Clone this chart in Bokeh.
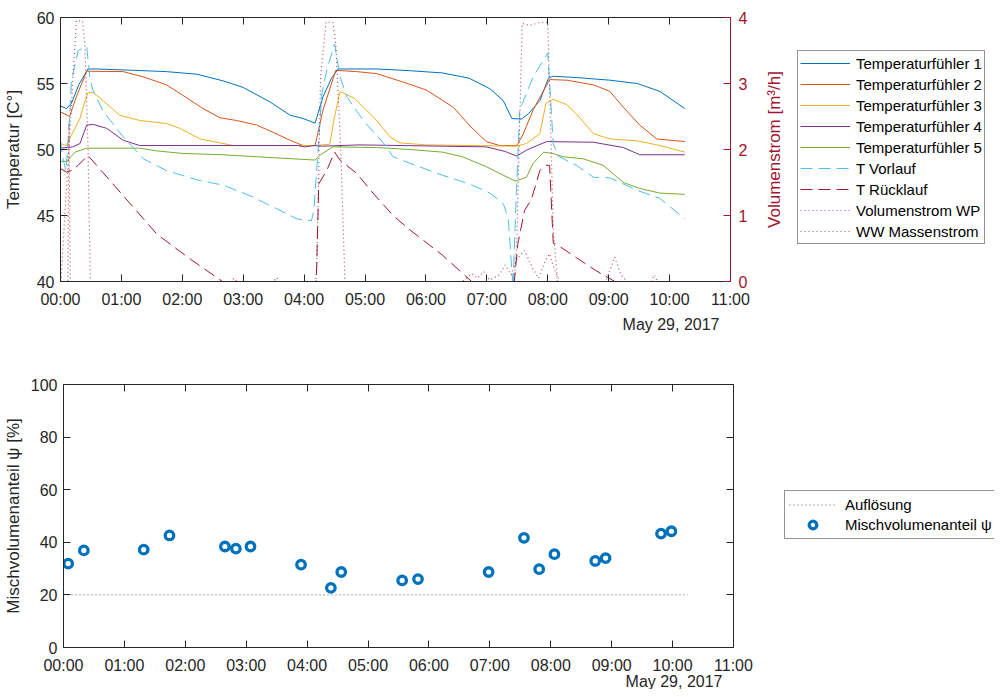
import pandas as pd
from bokeh.plotting import figure
from bokeh.models import (Range1d, LinearAxis, DatetimeAxis, FixedTicker, CustomJSTickFormatter,
                          DatetimeTickFormatter, Legend, LegendItem, Title)
from bokeh.layouts import column, row
from bokeh.embed import file_html
from bokeh.resources import INLINE

# ---------------- data (hours after midnight, 29 May 2017) ----------------
t1_h = [0, 0.1, 0.18, 0.3, 0.45, 0.6, 1.2, 1.74, 2.24, 2.67, 3.0, 3.44, 3.77, 3.98, 4.18, 4.31, 4.45, 4.56,
        5.2, 5.74, 6.27, 6.71, 7.05, 7.27, 7.41, 7.57, 7.68, 7.87, 8.01, 8.09, 8.47, 9.02, 9.47, 9.84, 10.25]
t1_v = [53.3, 53.1, 53.5, 54.9, 56.1, 56.1, 56.0, 55.9, 55.7, 55.2, 54.7, 53.6, 52.6, 52.35, 52.0, 54.0, 55.4, 56.1,
        56.1, 55.97, 55.8, 55.4, 54.6, 53.7, 52.35, 52.3, 52.7, 53.7, 55.4, 55.55, 55.45, 55.25, 55.0, 54.4, 53.1]

t2_h = [0, 0.15, 0.26, 0.43, 1.03, 1.36, 1.74, 2.01, 2.34, 2.62, 2.89, 3.22, 3.49, 3.77, 3.98, 4.18, 4.31, 4.52,
        4.86, 5.19, 5.63, 6.01, 6.45, 6.72, 6.99, 7.21, 7.49, 7.59, 7.76, 8.03, 8.31, 8.75, 9.02, 9.24, 9.51, 9.79, 10.25]
t2_v = [52.85, 52.5, 54.0, 55.93, 55.9, 55.5, 54.9, 54.1, 53.1, 52.4, 52.2, 51.85, 51.3, 50.7, 50.3, 50.3, 53.0, 56.0,
        55.9, 55.75, 55.1, 54.5, 53.2, 51.8, 50.6, 50.3, 50.3, 51.1, 53.0, 55.3, 55.25, 54.9, 54.4, 53.2, 51.85, 50.8, 50.6]

t3_h = [0, 0.1, 0.18, 0.32, 0.37, 0.45, 0.54, 0.7, 0.97, 1.3, 1.74, 1.96, 2.29, 2.84, 4.18, 4.42, 4.5, 4.59, 4.83,
        5.13, 5.19, 5.41, 5.57, 6.01, 7.49, 7.65, 7.87, 7.97, 8.09, 8.31, 8.47, 8.75, 9.02, 9.47, 9.84, 10.25]
t3_v = [50.45, 50.3, 51.1, 52.35, 53.2, 54.3, 54.3, 53.7, 52.6, 52.2, 51.97, 51.6, 50.8, 50.3, 50.3, 50.4, 52.5, 54.4, 53.86,
        52.5, 52.2, 50.95, 50.5, 50.35, 50.25, 50.45, 51.2, 53.5, 53.8, 53.4, 52.7, 51.2, 50.8, 50.65, 50.3, 49.8]

t4_h = [0, 0.2, 0.32, 0.43, 0.54, 0.76, 1.03, 1.3, 3.9, 4.0, 4.18, 4.3, 4.9, 6.99, 7.3, 7.49, 7.65, 7.98,
        8.75, 9.24, 9.51, 10.25]
t4_v = [50.1, 50.2, 50.45, 51.85, 51.9, 51.6, 50.7, 50.3, 50.3, 50.2, 50.3, 50.25, 50.35, 50.2, 49.85, 49.5, 49.95, 50.6,
        50.55, 50.15, 49.6, 49.6]

t5_h = [0, 0.1, 0.24, 0.43, 1.3, 1.57, 2.01, 2.67, 3.22, 4.18, 4.27, 4.47, 5.19, 5.74, 6.27, 6.6, 6.99, 7.27, 7.47,
        7.65, 7.76, 7.93, 8.09, 8.25, 8.58, 8.91, 9.24, 9.51, 9.84, 10.25]
t5_v = [49.1, 49.1, 49.8, 50.1, 50.1, 49.9, 49.7, 49.6, 49.45, 49.2, 49.6, 50.2, 50.15, 50.0, 49.8, 49.45, 48.7, 48.05, 47.6,
        47.9, 48.95, 49.8, 49.7, 49.45, 49.3, 48.8, 47.5, 47.05, 46.7, 46.6]

vl_h = [0, 0.04, 0.09, 0.15, 0.18, 0.29, 0.43, 0.48, 0.53, 0.7, 1.03, 1.36, 1.74, 2.24, 2.67, 3.11, 3.49, 3.88, 4.12,
        4.16, 4.21, 4.29, 4.37, 4.5, 4.59, 4.7, 4.97, 5.3, 5.46, 5.74, 6.27, 6.71, 7.05, 7.27, 7.35, 7.38, 7.43,
        7.47, 7.54, 7.76, 8.0, 8.09, 8.17, 8.47, 8.75, 9.02, 9.47, 9.84, 10.25]
vl_v = [50.7, 49.3, 48.4, 52.5, 55.2, 57.5, 57.8, 55.5, 54.5, 52.9, 50.95, 49.3, 48.4, 47.7, 47.3, 46.5, 45.65, 44.75, 44.6,
        45.4, 48.7, 54.2, 56.0, 58.0, 55.5, 54.0, 52.2, 50.5, 49.45, 48.95, 48.05, 47.4, 46.7, 45.9, 44.8, 42.9, 39.5,
        45.0, 53.0, 55.5, 57.3, 50.45, 49.5, 48.8, 47.9, 47.85, 46.9, 46.3, 44.75]

rl_h = [0, 0.1, 0.18, 0.29, 0.45, 1.03, 1.58, 2.13, 2.66, 3.0, 4.15, 4.2, 4.24, 4.37, 4.5, 4.59, 4.86, 5.13, 5.46,
        5.74, 6.27, 6.75, 7.0, 7.4, 7.45, 7.51, 7.62, 7.73, 7.87, 7.95, 8.03, 8.09, 8.15, 8.47, 8.8, 9.1, 9.4, 10.25]
rl_v = [48.55, 48.3, 48.4, 48.8, 49.55, 46.5, 43.6, 41.7, 40.0, 39.0, 38.5, 40.1, 47.4, 48.4, 49.8, 49.2, 48.2, 46.7, 45.0,
        43.9, 42.0, 40.0, 39.0, 38.5, 40.0, 42.9, 45.4, 46.2, 48.4, 48.8, 48.8, 42.9, 42.8, 41.8, 40.8, 40.0, 39.0, 38.5]

wp_h = [0, 0.01, 0.26, 0.36, 0.4, 0.45, 0.49, 4.19, 4.21, 4.27, 4.36, 4.47, 4.52, 4.6, 4.67,
        7.45, 7.49, 7.58, 7.7, 7.85, 8.0, 8.04, 8.09, 8.16, 10.25]
wp_v = [0, 0.05, 3.95, 3.95, 3.6, 2.1, 0, 0, 0.3, 3.1, 3.93, 3.93, 3.6, 2.0, 0,
        0, 0.58, 3.91, 3.88, 3.92, 3.93, 2.6, 0.8, 0, 0]

ww_h = [0, 0.12, 0.14, 0.16, 2.8, 2.85, 2.9, 3.5, 3.55, 3.6, 6.6, 6.75, 6.85, 6.95, 7.05, 7.2, 7.3, 7.4, 7.5,
        7.62, 7.75, 7.85, 7.95, 8.03, 8.1, 8.2, 8.95, 9.1, 9.2, 9.3, 9.7, 9.75, 9.8, 10.25]
ww_v = [0, 0, 2.4, 0, 0, 0.05, 0, 0, 0.06, 0, 0, 0.12, 0.05, 0.15, 0.02, 0.1, 0.25, 0.1, 0.35,
        0.47, 0.2, 0.05, 0.3, 0.42, 0.2, 0, 0, 0.37, 0.1, 0, 0, 0.1, 0, 0]

psi_h = [0.077, 0.334, 1.317, 1.74, 2.65, 2.83, 3.07, 3.90, 4.39, 4.56, 5.56, 5.82, 6.98, 7.56, 7.81, 8.06,
         8.73, 8.90, 9.81, 9.98]
psi_v = [31.9, 36.9, 37.2, 42.6, 38.4, 37.6, 38.4, 31.5, 22.7, 28.7, 25.5, 26.0, 28.7, 41.7, 29.8, 35.5,
         32.9, 34.0, 43.3, 44.2]

aufl_h = [0, 10.25]
aufl_v = [20, 20]

hour_ticks = list(range(0, 12))
temp_ticks = [40, 45, 50, 55, 60]
flow_ticks = [0, 1, 2, 3, 4]
psi_ticks = [0, 20, 40, 60, 80, 100]
date_label = "May 29, 2017"
names1 = ["Temperaturfühler 1", "Temperaturfühler 2", "Temperaturfühler 3", "Temperaturfühler 4",
          "Temperaturfühler 5", "T Vorlauf", "T Rücklauf", "Volumenstrom WP", "WW Massenstrom"]
names2 = ["Auflösung", "Mischvolumenanteil ψ"]

# ---------------- helpers ----------------
BASE = pd.Timestamp("2017-05-29 00:00")
def T(hours):
    return [BASE + pd.Timedelta(hours=h) for h in hours]
def ms(h):
    return (BASE + pd.Timedelta(hours=h)).value / 1e6

FONT = "Liberation Sans"
DARK = "#262626"
RED = "#A2142F"
C = ["#0072BD", "#D95319", "#EDB120", "#7E2F8E", "#77AC30", "#4DBEEE", "#A2142F"]

STYLES = [dict(line_color=C[0], line_width=1), dict(line_color=C[1], line_width=1),
          dict(line_color=C[2], line_width=1), dict(line_color=C[3], line_width=1),
          dict(line_color=C[4], line_width=1),
          dict(line_color=C[5], line_width=1, line_dash="12 6"),
          dict(line_color=C[6], line_width=1, line_dash="12 6"),
          dict(line_color=RED, line_alpha=0.75, line_width=1.2, line_dash="1 3"),
          dict(line_color=RED, line_alpha=0.75, line_width=1.2, line_dash="1 3")]
AUFL_STYLE = dict(line_color="#555555", line_width=1, line_dash="1 3")
PSI_STYLE = dict(marker="circle", size=8.5, line_width=3.3, line_color="#0072BD", fill_color="white")

fmt = DatetimeTickFormatter(microseconds="%H:%M", milliseconds="%H:%M", seconds="%H:%M", minsec="%H:%M",
                            minutes="%H:%M", hourmin="%H:%M", hours="%H:%M", days="%H:%M",
                            months="%H:%M", years="%H:%M")
blank = CustomJSTickFormatter(code="return ''")
xticker = FixedTicker(ticks=[ms(h) for h in hour_ticks])

FW = 670          # plot frame width
LEFT = 56
RIGHT = 26
SIDE_W = 987 - (LEFT + FW + RIGHT)

def style_axis(ax, color=DARK, labels=True):
    ax.axis_line_color = color
    ax.axis_line_width = 1
    ax.major_tick_line_color = color
    ax.major_tick_in = 7
    ax.major_tick_out = 0
    ax.minor_tick_line_color = None
    ax.major_label_text_color = color
    ax.major_label_text_font = FONT
    ax.major_label_text_font_size = "16px"
    ax.major_label_standoff = 6 if labels else 0
    if not labels:
        ax.formatter = blank
    ax.axis_label_text_font = FONT
    ax.axis_label_text_font_size = "17px"
    ax.axis_label_text_font_style = "normal"
    ax.axis_label_text_color = color

def make_fig(fh, top, bottom, yr, title_standoff):
    p = figure(frame_width=FW, frame_height=fh, x_axis_type="datetime",
               x_range=Range1d(BASE, BASE + pd.Timedelta(hours=11)), y_range=yr,
               output_backend="svg", toolbar_location=None,
               min_border_left=LEFT, min_border_right=RIGHT, min_border_top=top, min_border_bottom=bottom)
    p.grid.visible = False
    p.outline_line_color = None
    p.background_fill_color = "white"
    p.border_fill_color = "white"
    p.xaxis.ticker = xticker
    p.xaxis.formatter = fmt
    for ax in p.xaxis:
        style_axis(ax)
        ax.major_label_standoff = 9
    for ax in p.yaxis:
        style_axis(ax)
    top_ax = DatetimeAxis(ticker=xticker)
    style_axis(top_ax, labels=False)
    p.add_layout(top_ax, "above")
    p.add_layout(Title(text=date_label, align="right", offset=11, standoff=title_standoff, text_font=FONT,
                       text_font_size="16px", text_font_style="normal", text_color=DARK), "below")
    return p

def make_side(fh, top, bottom, left):
    # side area holding the legend; its ranges keep the legend key renderers out of view
    s = figure(width=SIDE_W, frame_height=fh, x_range=Range1d(0, 1), y_range=Range1d(0, 1),
               output_backend="svg", toolbar_location=None, x_axis_location=None, y_axis_location=None,
               min_border_left=left, min_border_right=0, min_border_top=top, min_border_bottom=bottom)
    s.grid.visible = False
    s.outline_line_color = None
    s.border_fill_color = "white"
    s.background_fill_color = "white"
    return s

def make_legend(items, loc, gw, gh, standoff, pad):
    return Legend(items=items, location=loc, margin=0, padding=pad, spacing=1,
                  glyph_width=gw, glyph_height=gh, label_height=gh, label_standoff=standoff,
                  label_text_font=FONT, label_text_font_size="15px", label_text_color="black",
                  border_line_color=DARK, border_line_width=1,
                  background_fill_color="white", background_fill_alpha=1)

# ---------------- top figure ----------------
p1 = make_fig(264, 17, 59, Range1d(40, 60), 7)
p1.yaxis.ticker = FixedTicker(ticks=temp_ticks)
p1.yaxis.axis_label = "Temperatur [C°]"
p1.yaxis.axis_label_standoff = 11
p1.extra_y_ranges = {"flow": Range1d(0, 4)}
rax = LinearAxis(y_range_name="flow", ticker=FixedTicker(ticks=flow_ticks))
style_axis(rax, color=RED)
rax.major_label_standoff = 8
p1.add_layout(rax, "right")

series = [(t1_h, t1_v), (t2_h, t2_v), (t3_h, t3_v), (t4_h, t4_v), (t5_h, t5_v),
          (vl_h, vl_v), (rl_h, rl_v), (wp_h, wp_v), (ww_h, ww_v)]
for i, (hh, vv) in enumerate(series):
    extra = {"y_range_name": "flow"} if i >= 7 else {}
    p1.line(T(hh), vv, **STYLES[i], **extra)

# side area: right-axis title and legend
s1 = make_side(264, 17, 59, 36)
lab_ax = LinearAxis(ticker=FixedTicker(ticks=[]), axis_label="Volumenstrom [m³/h]")
style_axis(lab_ax, color=RED)
lab_ax.axis_line_color = None
lab_ax.axis_label_standoff = 9
s1.add_layout(lab_ax, "left")
keys1 = [s1.line(T(hh), vv, **STYLES[i]) for i, (hh, vv) in enumerate(series)]
s1.add_layout(make_legend([LegendItem(label=n, renderers=[g]) for n, g in zip(names1, keys1)],
                          (5, 37), 50, 20, 6, 2))

# ---------------- bottom figure ----------------
p2 = make_fig(263, 44, 42, Range1d(0, 100), -11)
p2.yaxis.ticker = FixedTicker(ticks=psi_ticks)
p2.yaxis.axis_label = "Mischvolumenanteil ψ [%]"
rax2 = LinearAxis(ticker=FixedTicker(ticks=psi_ticks))
style_axis(rax2, labels=False)
p2.add_layout(rax2, "right")

p2.line(T(aufl_h), aufl_v, **AUFL_STYLE)
p2.scatter(T(psi_h), psi_v, **PSI_STYLE)

s2 = make_side(263, 44, 42, 0)
k_a = s2.line(T(aufl_h), aufl_v, **AUFL_STYLE)
k_p = s2.scatter(T(psi_h), psi_v, **PSI_STYLE)
s2.add_layout(make_legend([LegendItem(label=names2[0], renderers=[k_a]),
                           LegendItem(label=names2[1], renderers=[k_p])],
                          (25, 108), 47, 19, 9, 4))

layout = column(row(p1, s1, spacing=0), row(p2, s2, spacing=0), spacing=0)
open("out.html", "w").write(file_html(layout, INLINE))
